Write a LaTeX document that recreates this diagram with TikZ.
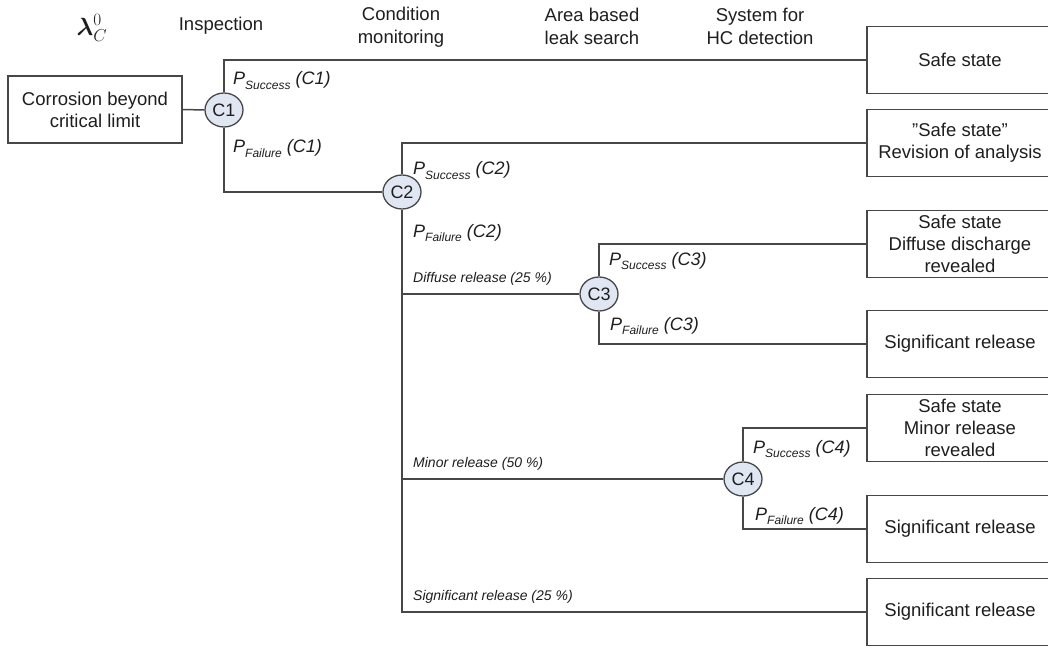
\documentclass[tikz,border=0pt]{standalone}
\usepackage{fontspec}
\setmainfont{Liberation Sans}
\usepackage{bm}
\usetikzlibrary{shapes.geometric}

\definecolor{linegray}{HTML}{474747}
\definecolor{textgray}{HTML}{1E1E1E}
\definecolor{chancefill}{HTML}{E1E7F2}

% probability label: italic P with a lowered italic subscript
\newcommand\plabel[2]{\fontsize{18}{20}\selectfont\itshape P\raisebox{-4.5pt}{\fontsize{12}{14}\selectfont #1} (#2)}

\begin{document}
\begin{tikzpicture}[x=1pt,y=-1pt,
  every node/.style={text=textgray},
  wire/.style={draw=linegray, line width=1.5pt},
  startbox/.style={draw=linegray, line width=1.5pt, minimum width=174pt, minimum height=67pt,
    align=center, font=\fontsize{18.5}{22}\selectfont, inner sep=0pt},
  outcome/.style={draw=linegray, line width=1.5pt, minimum width=186pt, minimum height=67pt,
    align=center, font=\fontsize{18.5}{22}\selectfont, inner sep=0pt},
  chance/.style={ellipse, draw=linegray, line width=1.3pt, fill=chancefill,
    minimum width=38pt, minimum height=34pt, inner sep=0pt, font=\fontsize{18}{20}\selectfont},
  header/.style={align=center, inner sep=0pt, font=\fontsize{18.5}{23}\selectfont},
  branch/.style={anchor=base west, inner sep=0pt, font=\fontsize{14}{16}\selectfont\itshape},
  prob/.style={anchor=base west, inner sep=0pt}
]
\useasboundingbox (0,0) rectangle (1048,647);
\clip (0,0) rectangle (1048,647);

% column headers
\node[inner sep=0pt, font=\fontsize{24}{26}\selectfont] (lam) at (92,28) {$\bm{\lambda}_C^0$};
\node[header] (h1) at (221,26) {Inspection};
\node[header] (h2) at (401,27) {Condition\\monitoring};
\node[header] (h3) at (592,26) {Area based\\leak search};
\node[header] (h4) at (760,26) {System for\\HC detection};

% initiating event and chance nodes
\node[startbox] (start) at (95,109.5) {Corrosion beyond\\critical limit};
\node[chance] (c1) at (224,110) {C1};
\node[chance] (c2) at (402,192) {C2};
\node[chance] (c3) at (599,294) {C3};
\node[chance] (c4) at (743,479) {C4};

% end states
\node[outcome] (o1) at (960,60)  {Safe state};
\node[outcome] (o2) at (960,143) {"Safe state"\\Revision of analysis};
\node[outcome] (o3) at (960,244) {Safe state\\Diffuse discharge\\revealed};
\node[outcome] (o4) at (960,344) {Significant release};
\node[outcome] (o5) at (960,428) {Safe state\\Minor release\\revealed};
\node[outcome] (o6) at (960,529) {Significant release};
\node[outcome] (o7) at (960,612) {Significant release};

% branches
\draw[wire] (start.east) -- (c1.west);
\draw[wire] (c1.north) |- (o1.west);
\draw[wire] (c1.south) |- (c2.west);
\draw[wire] (c2.north) |- (o2.west);
\draw[wire] (c2.south) |- (o7.west);
\draw[wire] (c2.south |- c3.west) -- (c3.west);
\draw[wire] (c3.north) |- (o3.west);
\draw[wire] (c3.south) |- (o4.west);
\draw[wire] (c2.south |- c4.west) -- (c4.west);
\draw[wire] (c4.north) |- (o5.west);
\draw[wire] (c4.south) |- (o6.west);

% branch labels
\node[prob] (ps1) at (233,85)  {\plabel{Success}{C1}};
\node[prob] (pf1) at (233,153) {\plabel{Failure}{C1}};
\node[prob] (ps2) at (413,175) {\plabel{Success}{C2}};
\node[prob] (pf2) at (413,237) {\plabel{Failure}{C2}};
\node[prob] (ps3) at (609,265) {\plabel{Success}{C3}};
\node[prob] (pf3) at (610,330) {\plabel{Failure}{C3}};
\node[prob] (ps4) at (753,453) {\plabel{Success}{C4}};
\node[prob] (pf4) at (755,520) {\plabel{Failure}{C4}};
\node[branch] (b1) at (413,282) {Diffuse release (25 \%)};
\node[branch] (b2) at (413,467) {Minor release (50 \%)};
\node[branch] (b3) at (413,600) {Significant release (25 \%)};
\end{tikzpicture}
\end{document}
